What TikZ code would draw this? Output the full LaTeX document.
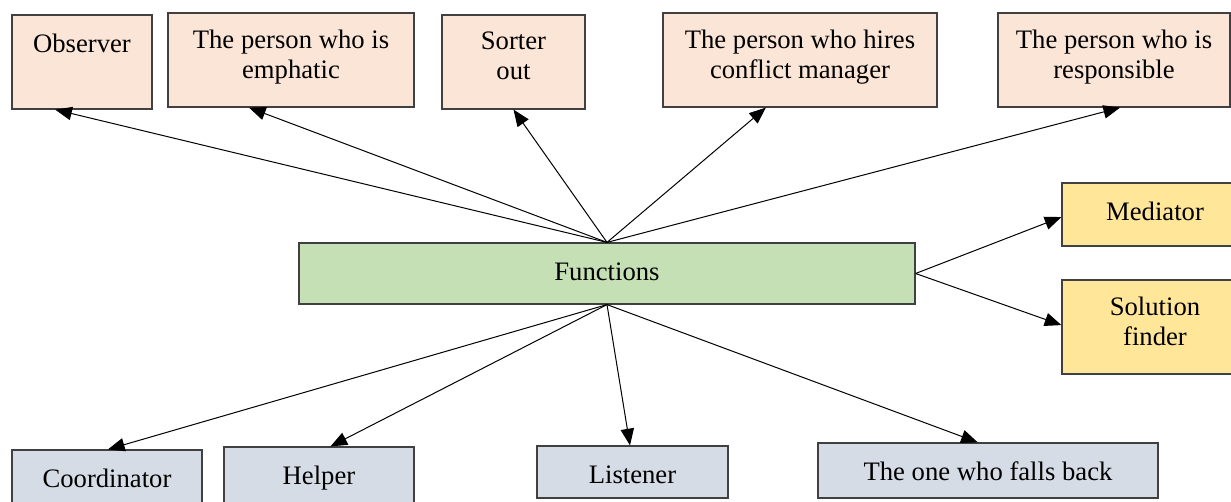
\documentclass[tikz,border=0pt]{standalone}
\usepackage{fontspec}
\setmainfont{Liberation Serif}
\newfontfamily\rolefont{Liberation Serif}
\usetikzlibrary{arrows.meta,calc}

\definecolor{peach}{HTML}{FBE5D6}
\definecolor{sage}{HTML}{C5E0B4}
\definecolor{gold}{HTML}{FFE699}
\definecolor{slate}{HTML}{D6DCE5}
\definecolor{rim}{HTML}{404040}

\tikzset{
  box/.style={draw=rim, line width=0.9pt, inner sep=0pt},
  caption/.style={anchor=north, inner sep=0pt, align=center,
    font=\rolefont\fontsize{20pt}{22.5pt}\selectfont,
    execute at begin node=\rule{0pt}{15pt}},
  link/.style={line width=0.75pt, draw=black,
    -{Triangle[length=12.5pt,width=10pt]}},
}

% #1 name, #2 left, #3 top, #4 right, #5 bottom, #6 fill, #7 text
\newcommand\rolebox[7]{%
  \node[box, fill=#6, minimum width={(#4-#2)*0.75pt},
        minimum height={(#5-#3)*0.75pt}]
        (#1) at ({(#2+#4)/2},{(#3+#5)/2}) {};
  \node[caption] (#1-text) at ({(#2+#4)/2},{#3+17}) {#7};
}

\begin{document}
\begin{tikzpicture}[x=0.75pt, y=-0.75pt]
  \useasboundingbox (0,0) rectangle (1231,502);

  % upper row
  \rolebox{obs}{12}{15}{152}{109}{peach}{Observer}
  \rolebox{emp}{168}{13}{414}{107}{peach}{The person who is\\emphatic}
  \rolebox{sort}{442}{15}{585}{109}{peach}{Sorter\\out}
  \rolebox{hire}{663}{13}{937}{107}{peach}{The person who hires\\conflict manager}
  \rolebox{resp}{998}{13}{1230}{107}{peach}{The person who is\\responsible}

  % centre
  \rolebox{fun}{299}{243}{915}{304}{sage}{Functions}

  % right column
  \rolebox{med}{1062}{183}{1248}{246}{gold}{Mediator}
  \rolebox{sol}{1062}{280}{1248}{374}{gold}{Solution\\finder}

  % lower row
  \rolebox{coord}{12}{450}{202}{512}{slate}{Coordinator}
  \rolebox{help}{224}{447}{414}{512}{slate}{Helper}
  \rolebox{list}{537}{446}{728}{498}{slate}{Listener}
  \rolebox{back}{818}{443}{1158}{498}{slate}{The one who falls back}

  % connectors
  \draw[link] (fun.north) -- ($(obs.south west)!0.31!(obs.south east)$);
  \draw[link] (fun.north) -- ($(emp.south west)!0.33!(emp.south east)$);
  \draw[link] (fun.north) -- ($(sort.south west)!0.5!(sort.south east)$);
  \draw[link] (fun.north) -- ($(hire.south west)!0.376!(hire.south east)$);
  \draw[link] (fun.north) -- ($(resp.south west)!0.526!(resp.south east)$);

  \draw[link] (fun.east) -- ($(med.north west)!0.54!(med.south west)$);
  \draw[link] (fun.east) -- ($(sol.north west)!0.48!(sol.south west)$);

  \draw[link] (fun.south) -- ($(coord.north west)!0.505!(coord.north east)$);
  \draw[link] (fun.south) -- ($(help.north west)!0.56!(help.north east)$);
  \draw[link] (fun.south) -- ($(list.north west)!0.487!(list.north east)$);
  \draw[link] (fun.south) -- ($(back.north west)!0.47!(back.north east)$);
\end{tikzpicture}
\end{document}
